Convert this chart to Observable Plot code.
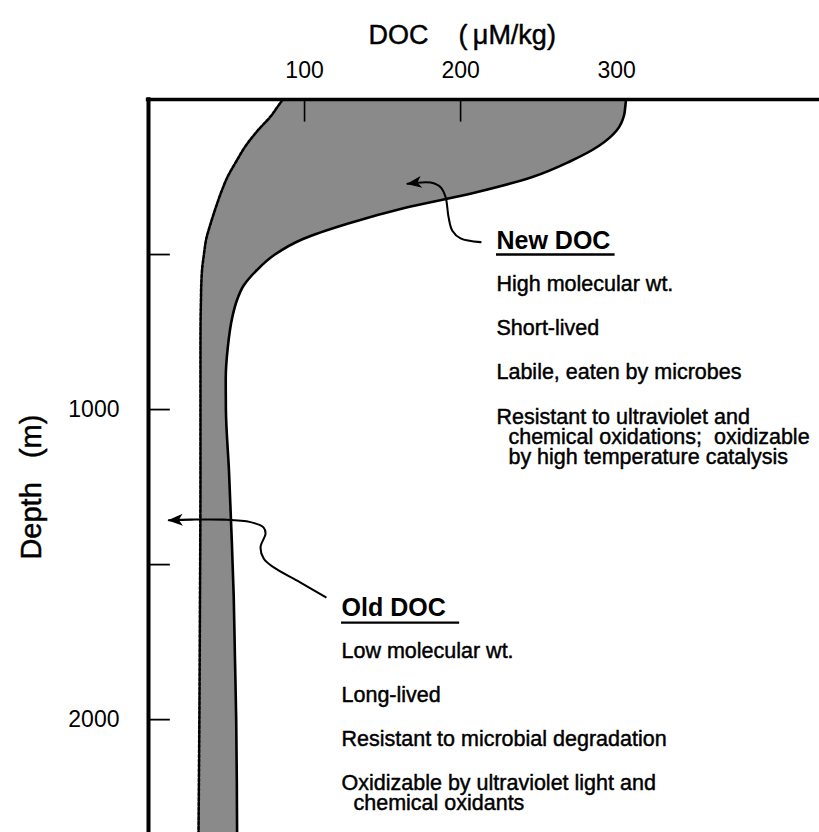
<!DOCTYPE html>
<html>
<head>
<meta charset="utf-8">
<script src="https://cdn.jsdelivr.net/npm/d3@7"></script>
<script src="https://cdn.jsdelivr.net/npm/@observablehq/plot@0.6"></script>
<style>
  html, body { margin: 0; padding: 0; background: #fff; }
  #chart svg { display: block; }
</style>
</head>
<body>
<div id="chart"></div>
<script>
// Depth profile of dissolved organic carbon (DOC) in the ocean.
// Depth (m) at which both edges of the DOC band are read.
const depth = [0, 25, 50, 100, 150, 200, 250, 300, 350, 400, 450, 500, 550, 600, 650, 700, 800, 900, 1000, 1200, 1400, 1600, 1800, 2000, 2200, 2400];
// Old (refractory) DOC, µM/kg: left, dashed edge of the band.
const oldDoc = [86, 82.5, 79, 70, 62.2, 56.2, 50.6, 46.5, 43, 39.8, 37, 35.5, 34.3, 33.8, 33.6, 33.4, 33.3, 33.3, 33.3, 33.3, 33.2, 33, 32.8, 32.6, 32.3, 32];
// Total DOC, µM/kg: right, solid edge of the band.
const totalDoc = [306, 305.5, 304.8, 300, 288.5, 270, 246, 209.5, 164, 128, 99, 81, 69.5, 61, 56.5, 53.8, 50.8, 49.5, 49.6, 51.6, 53.2, 54.6, 55.4, 56.2, 56.6, 56.8];

// Axis ticks
const docTickLabels = [100, 200, 300];
const docTickMarks = [100, 200];
const depthTickLabels = [1000, 2000];
const depthTickMarks = [500, 1000, 1500, 2000];

// Titles and notes
const xTitle = "DOC\u00a0\u00a0\u00a0\u00a0(\u2009\u03bcM/kg)";
const yTitle = "Depth\u00a0\u00a0\u00a0(m)";
const newDocTitle = "New DOC";
const newDocNotes = [
  "High molecular wt.",
  "Short-lived",
  "Labile, eaten by microbes",
  "Resistant to ultraviolet and\n\u00a0\u00a0chemical oxidations;\u00a0 oxidizable\n\u00a0\u00a0by high temperature catalysis"
];
const oldDocTitle = "Old DOC";
const oldDocNotes = [
  "Low molecular wt.",
  "Long-lived",
  "Resistant to microbial degradation",
  "Oxidizable by ultraviolet light and\n\u00a0\u00a0chemical oxidants"
];

// Leader arrows (DOC, depth), running from the note to the arrowhead
const newArrowDoc = [212.8, 200, 194.7, 192.3, 190.4, 187.2, 180.8, 166];
const newArrowDepth = [460, 448, 423, 380, 315, 283, 268, 272];
const oldArrowDoc = [113.5, 95.3, 80.3, 73.9, 71.8, 75, 73.7, 65.4, 48, 27, 13];
const oldArrowDepth = [1605, 1552, 1509, 1481, 1444, 1400, 1380, 1363, 1355, 1355, 1357];

const profile = depth.map((d, i) => ({depth: d, old: oldDoc[i], total: totalDoc[i]}));
const newArrow = newArrowDoc.map((d, i) => ({doc: d, depth: newArrowDepth[i]}));
const oldArrow = oldArrowDoc.map((d, i) => ({doc: d, depth: oldArrowDepth[i]}));

// One row per printed line of a note block, baselines in depth units
function noteLines(notes, x, start, itemStep, lineStep) {
  const rows = [];
  notes.forEach((note, i) => {
    note.split("\n").forEach((line, j) => {
      rows.push({text: line, x, y: start + i * itemStep + j * lineStep});
    });
  });
  return rows;
}

const font = "'Liberation Sans', Arial, Helvetica, sans-serif";
const newRows = noteLines(newDocNotes, 223, 616, 143, 66);
const oldRows = noteLines(oldDocNotes, 123.7, 1800, 142, 66);
// Slightly heavier lettering: black fill with a thin black outline underneath
const ink = {fill: "#000", stroke: "#000", strokeWidth: 0.45, paintOrder: "stroke"};
const leaderWidth = 2.05;

const chart = Plot.plot({
  width: 819,
  height: 832,
  marginTop: 99,
  marginLeft: 148,
  marginRight: 0,
  marginBottom: 0,
  x: {domain: [0, 430], axis: null},
  y: {domain: [0, 2364], reverse: true, axis: null},
  style: {fontFamily: font, background: "#fff", color: "#000", overflow: "visible"},
  marks: [
    Plot.areaX(profile, {y: "depth", x1: "old", x2: "total", fill: "#8a8a8a", curve: "monotone-y", clip: true}),
    Plot.lineX(profile, {y: "depth", x: "old", stroke: "#000", strokeWidth: 2.6, strokeDasharray: "3,1.8", curve: "monotone-y", clip: true}),
    Plot.lineX(profile, {y: "depth", x: "total", stroke: "#000", strokeWidth: 2.6, curve: "monotone-y", clip: true}),

    // Frame: top and left edges, with inward tick marks
    Plot.ruleY([0], {x1: -1.4, x2: 430, strokeWidth: 3.6}),
    Plot.ruleX([0], {y1: -6, y2: 2364, strokeWidth: 4}),
    Plot.ruleX(docTickMarks, {y1: 0, y2: 73, strokeWidth: 1.6}),
    Plot.ruleY(depthTickMarks, {x1: 0, x2: 14, strokeWidth: 1.8}),

    Plot.axisX({anchor: "top", ticks: docTickLabels, tickFormat: "d", tickSize: 0, tickPadding: 22, fontSize: 23, label: null, ...ink}),
    Plot.axisY({anchor: "left", ticks: depthTickLabels, tickFormat: "d", tickSize: 0, tickPadding: 29, fontSize: 23, label: null, ...ink}),

    Plot.text([xTitle], {x: 201, frameAnchor: "top", dy: -56, lineAnchor: "bottom", fontSize: 27, ...ink}),
    Plot.text([yTitle], {x: -75, y: 1250, rotate: -90, fontSize: 29, ...ink}),

    // New DOC note block
    Plot.text([newDocTitle], {x: 223, y: 481, textAnchor: "start", lineAnchor: "bottom", fontSize: 25, fontWeight: "bold", fill: "#000"}),
    Plot.ruleY([500], {x1: 223, x2: 299, strokeWidth: 2.4}),
    Plot.text(newRows, {x: "x", y: "y", text: "text", textAnchor: "start", lineAnchor: "bottom", fontSize: 21.5, ...ink}),

    // Old DOC note block
    Plot.text([oldDocTitle], {x: 123.7, y: 1664.5, textAnchor: "start", lineAnchor: "bottom", fontSize: 25, fontWeight: "bold", fill: "#000"}),
    Plot.ruleY([1687], {x1: 123.7, x2: 199.4, strokeWidth: 2.4}),
    Plot.text(oldRows, {x: "x", y: "y", text: "text", textAnchor: "start", lineAnchor: "bottom", fontSize: 21.5, ...ink}),

    // Leader arrows
    Plot.line(newArrow, {x: "doc", y: "depth", curve: "catmull-rom", stroke: "#000", strokeWidth: leaderWidth}),
    Plot.line(oldArrow, {x: "doc", y: "depth", curve: "catmull-rom", stroke: "#000", strokeWidth: leaderWidth})
  ]
});

// Filled barbed arrowheads at the ends of the leader lines
const svg = d3.select(chart);
svg.insert("defs", ":first-child")
  .append("marker")
  .attr("id", "barb")
  .attr("viewBox", "-15 -7 16 14")
  .attr("markerWidth", 16)
  .attr("markerHeight", 14)
  .attr("markerUnits", "userSpaceOnUse")
  .attr("orient", "auto")
  .append("path")
  .attr("d", "M1,0 L-14,-6 L-10,0 L-14,6 Z")
  .attr("fill", "#000");
svg.selectAll(`g[stroke-width="${leaderWidth}"] path, path[stroke-width="${leaderWidth}"]`)
  .attr("marker-end", "url(#barb)");

document.getElementById("chart").append(chart);
</script>
</body>
</html>
